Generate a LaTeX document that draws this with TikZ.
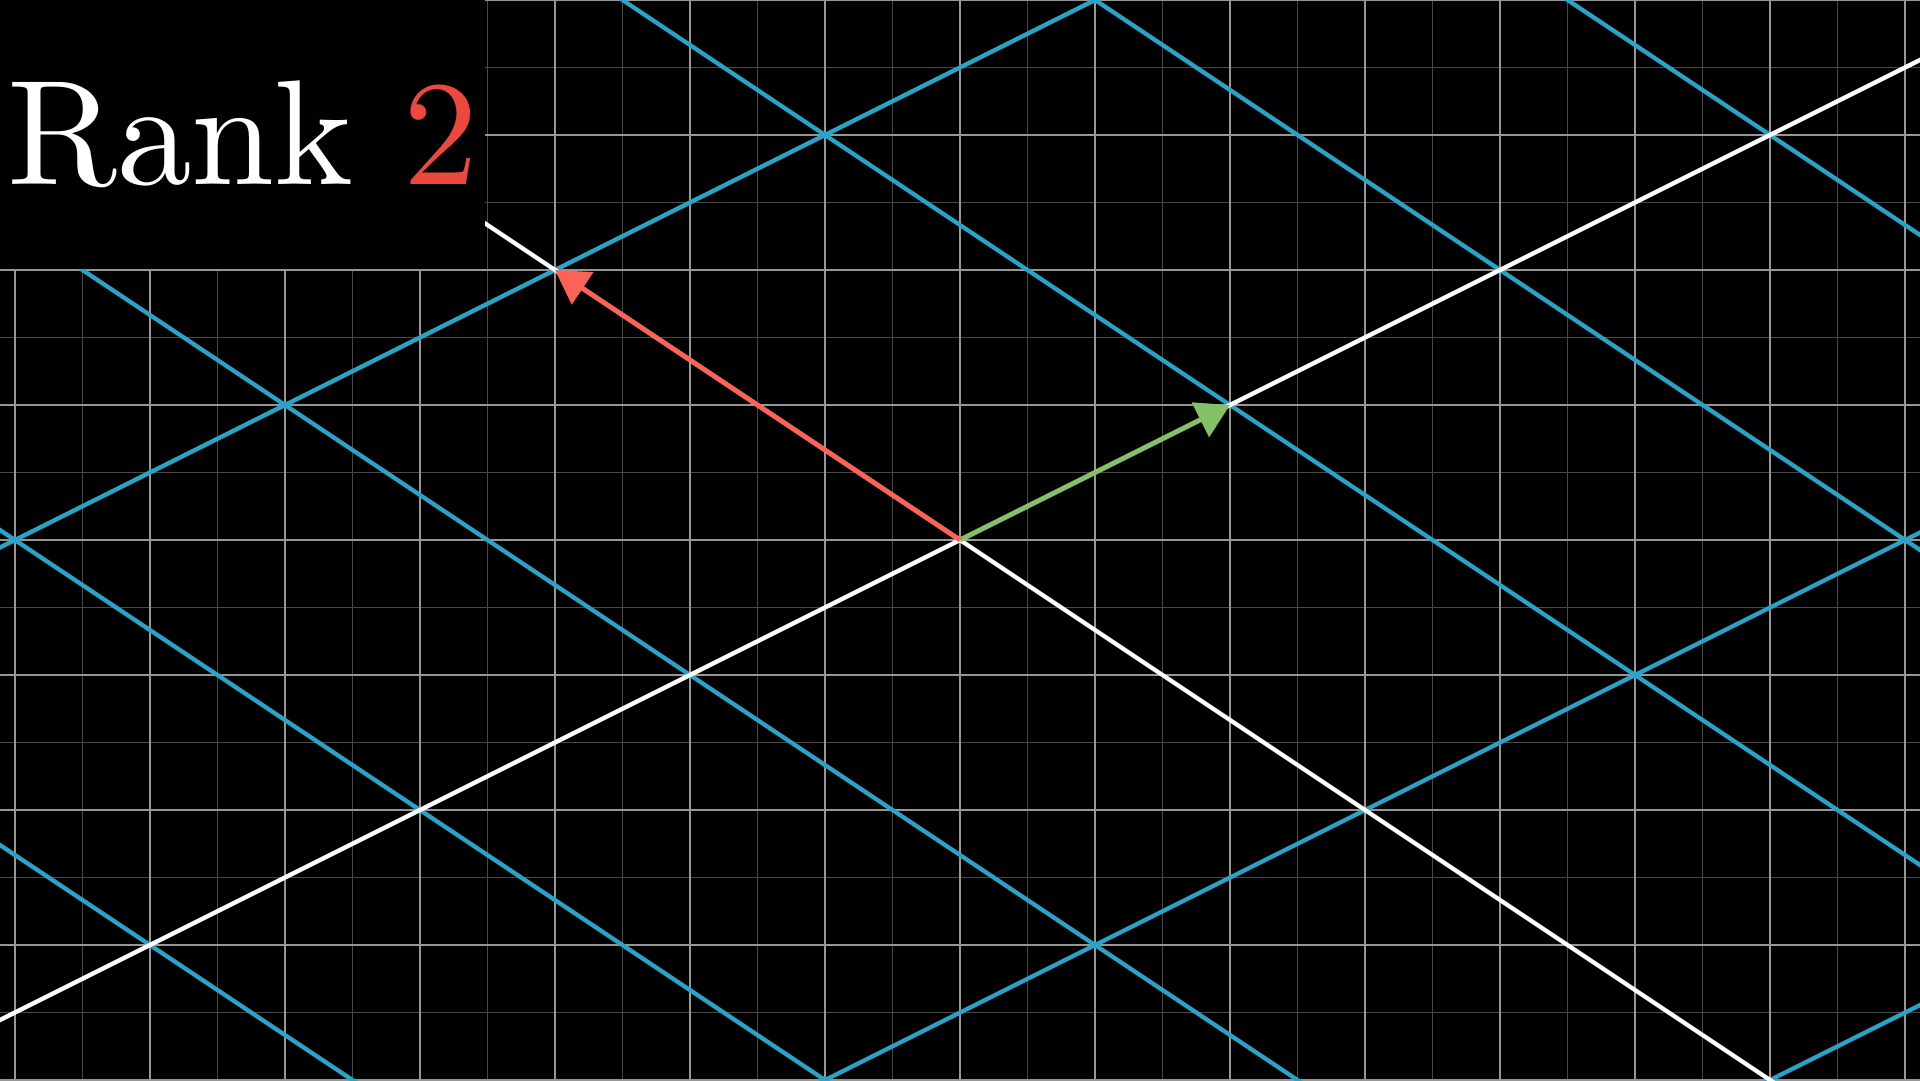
\documentclass[tikz,border=0pt]{standalone}
\usetikzlibrary{arrows.meta}
\definecolor{latticeblue}{RGB}{41,163,200}
\definecolor{vecred}{RGB}{252,98,85}
\definecolor{vecgreen}{RGB}{131,193,103}
\definecolor{rankred}{RGB}{236,72,62}
\definecolor{majorgray}{RGB}{150,150,150}
\definecolor{minorgray}{RGB}{72,72,72}

\begin{document}
\begin{tikzpicture}[x=1cm, y=1cm,
    minorline/.style={minorgray, line width=0.3pt},
    majorline/.style={majorgray, line width=0.45pt},
    lattice/.style={latticeblue, line width=0.9pt},
    axisline/.style={white, line width=0.9pt},
    vec/.style={line width=1pt, -{Triangle[length=7pt, width=8pt]}}]
  \useasboundingbox (-7.111,-4) rectangle (7.111,4);
  \fill[black] (-7.111,-4) rectangle (7.111,4);
  \clip (-7.111,-4) rectangle (7.111,4);
  % background grid
  \draw[minorline, shift={(0.5,0.5)}] (-8,-5) grid (8,5);
  \draw[majorline] (-8,-5) grid (8,5);
  % transformed grid, i -> (2,1), j -> (-3,2)
  \begin{scope}[cm={2,1,-3,2,(0,0)}]
    \draw[lattice] (-5,-2) -- (5,-2);
    \draw[lattice] (-5,-1) -- (5,-1);
    \draw[lattice] (-5,1) -- (5,1);
    \draw[lattice] (-5,2) -- (5,2);
    \draw[lattice] (-3,-4) -- (-3,4);
    \draw[lattice] (-2,-4) -- (-2,4);
    \draw[lattice] (-1,-4) -- (-1,4);
    \draw[lattice] (1,-4) -- (1,4);
    \draw[lattice] (2,-4) -- (2,4);
    \draw[lattice] (3,-4) -- (3,4);
    \draw[axisline] (-5,0) -- (5,0);
    \draw[axisline] (0,-4) -- (0,4);
  \end{scope}
  % basis vectors
  \coordinate (O) at (0,0);
  \coordinate (ihat) at (2,1);
  \coordinate (jhat) at (-3,2);
  \draw[vec, vecgreen] (O) -- (ihat);
  \draw[vec, vecred] (O) -- (jhat);
  % label
  \fill[black] (-7.2,4.1) rectangle (-3.52,2.01);
  \node[anchor=base west, inner sep=0pt, white, scale=3.15, font=\fontsize{10}{12}\selectfont] (title) at (-7.08,2.63) {Rank \textcolor{rankred}{2}};
\end{tikzpicture}
\end{document}
